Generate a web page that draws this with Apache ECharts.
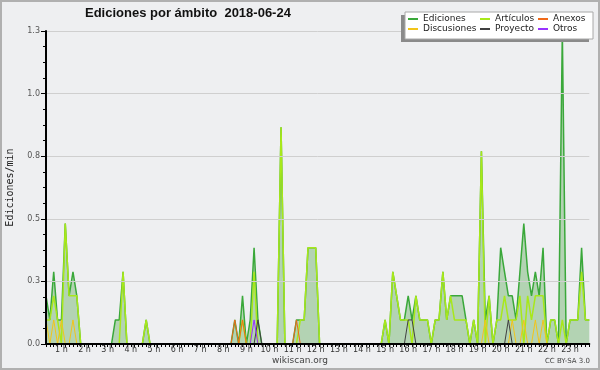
<!DOCTYPE html>
<html>
<head>
<meta charset="utf-8">
<script src="https://cdn.jsdelivr.net/npm/echarts@6/dist/echarts.min.js"></script>
<style>
html,body{margin:0;padding:0;background:#eeeff1;}
#chart{width:600px;height:370px;}
</style>
</head>
<body>
<div id="chart"></div>
<script>
// 10-minute bins from 00:20 to 23:50
const timeBins = [];
for (let t = 20; t <= 1430; t += 10) {
  const h = Math.floor(t / 60), m = t % 60;
  timeBins.push((h < 10 ? '0' : '') + h + ':' + (m < 10 ? '0' : '') + m);
}
const hourLabels = ['1 h','2 h','3 h','4 h','5 h','6 h','7 h','8 h','9 h','10 h','11 h','12 h',
  '13 h','14 h','15 h','16 h','17 h','18 h','19 h','20 h','21 h','22 h','23 h'];

const ediciones = [
  0.2,0.1,0.3,0.1,0.1,0.5,0.2,0.3,0.2,0, 0,0,0,0,0,0,0,0,0.1,0.1,
  0.3,0,0,0,0,0,0.1,0,0,0, 0,0,0,0,0,0,0,0,0,0,
  0,0,0,0,0,0,0,0,0,0.1, 0,0.2,0,0.1,0.4,0.1,0,0,0,0,
  0,0.9,0,0,0,0.1,0.1,0.1,0.4,0.4, 0.4,0,0,0,0,0,0,0,0,0,
  0,0,0,0,0,0,0,0,0.1,0, 0.3,0.2,0.1,0.1,0.2,0.1,0.2,0.1,0.1,0.1,
  0,0.1,0.1,0.3,0.1,0.2,0.2,0.2,0.2,0.1, 0,0.1,0,0.8,0.1,0.2,0,0.1,0.4,0.3,
  0.2,0.2,0.1,0.3,0.5,0.3,0.2,0.3,0.2,0.4, 0,0.1,0.1,0,1.3,0,0.1,0.1,0.1,0.4,
  0.1,0.1
];
const articulos = [
  0.1,0.1,0.2,0.1,0,0.5,0.2,0.2,0.2,0, 0,0,0,0,0,0,0,0,0,0,
  0.3,0,0,0,0,0,0.1,0,0,0, 0,0,0,0,0,0,0,0,0,0,
  0,0,0,0,0,0,0,0,0,0, 0,0.1,0,0,0.3,0,0,0,0,0,
  0,0.9,0,0,0,0,0.1,0.1,0.4,0.4, 0.4,0,0,0,0,0,0,0,0,0,
  0,0,0,0,0,0,0,0,0.1,0, 0.3,0.2,0.1,0.1,0.1,0,0.2,0.1,0.1,0.1,
  0,0.1,0.1,0.3,0.1,0.2,0.1,0.1,0.1,0.1, 0,0.1,0,0.8,0,0.2,0,0.1,0.1,0.2,
  0.1,0.1,0.1,0.2,0,0.2,0.1,0.2,0.2,0.2, 0,0.1,0.1,0,0.1,0,0.1,0.1,0.1,0.3,
  0.1,0.1
];
const discusiones = [
  0.1,0,0.1,0,0.1,0,0,0.1,0,0, 0,0,0,0,0,0,0,0,0,0,
  0,0,0,0,0,0,0,0,0,0, 0,0,0,0,0,0,0,0,0,0,
  0,0,0,0,0,0,0,0,0,0, 0,0,0,0,0,0,0,0,0,0,
  0,0,0,0,0,0,0,0,0,0, 0,0,0,0,0,0,0,0,0,0,
  0,0,0,0,0,0,0,0,0,0, 0,0,0,0,0,0,0,0,0,0,
  0,0,0,0,0,0,0,0,0,0, 0,0,0,0,0.1,0,0,0,0,0,
  0,0.1,0,0,0.1,0,0,0.1,0,0.1, 0,0,0,0,0,0,0,0,0,0,
  0,0
];
const anexos = [
  0,0,0,0,0,0,0,0,0,0, 0,0,0,0,0,0,0,0,0,0,
  0,0,0,0,0,0,0,0,0,0, 0,0,0,0,0,0,0,0,0,0,
  0,0,0,0,0,0,0,0,0,0.1, 0,0.1,0,0,0,0,0,0,0,0,
  0,0,0,0,0,0.1,0,0,0,0, 0,0,0,0,0,0,0,0,0,0,
  0,0,0,0,0,0,0,0,0,0, 0,0,0,0,0,0,0,0,0,0,
  0,0,0,0,0,0,0,0,0,0, 0,0,0,0,0,0,0,0,0,0,
  0,0,0,0,0,0,0,0,0,0, 0,0,0,0,0,0,0,0,0,0,
  0,0
];
const proyecto = [
  0,0,0,0,0,0,0,0,0,0, 0,0,0,0,0,0,0,0,0,0,
  0,0,0,0,0,0,0,0,0,0, 0,0,0,0,0,0,0,0,0,0,
  0,0,0,0,0,0,0,0,0,0, 0,0,0,0,0,0.1,0,0,0,0,
  0,0,0,0,0,0,0,0,0,0, 0,0,0,0,0,0,0,0,0,0,
  0,0,0,0,0,0,0,0,0,0, 0,0,0,0,0.1,0.1,0,0,0,0,
  0,0,0,0,0,0,0,0,0,0, 0,0,0,0,0,0,0,0,0,0,
  0.1,0,0,0,0,0,0,0,0,0, 0,0,0,0,0,0,0,0,0,0,
  0,0
];
const otros = [
  0,0,0,0,0,0,0,0,0,0, 0,0,0,0,0,0,0,0,0,0,
  0,0,0,0,0,0,0,0,0,0, 0,0,0,0,0,0,0,0,0,0,
  0,0,0,0,0,0,0,0,0,0, 0,0,0,0,0.1,0,0,0,0,0,
  0,0,0,0,0,0,0,0,0,0, 0,0,0,0,0,0,0,0,0,0,
  0,0,0,0,0,0,0,0,0,0, 0,0,0,0,0,0,0,0,0,0,
  0,0,0,0,0,0,0,0,0,0, 0,0,0,0,0,0,0,0,0,0,
  0,0,0,0,0,0,0,0,0,0, 0,0,0,0,0,0,0,0,0,0,
  0,0
];

const chart = echarts.init(document.getElementById('chart'), null, {renderer: 'canvas'});
const legendText = {fontFamily: 'DejaVu Sans', fontSize: 9, color: '#222', lineHeight: 10};
function mkLegend(names, left) {
  return {
    data: names, left: left, top: 14, orient: 'vertical', padding: 0, itemGap: 0,
    itemWidth: 10, itemHeight: 2, icon: 'rect', textStyle: legendText, z: 120,
    selectedMode: false
  };
}
function mkLine(name, data, color, width, extra) {
  return Object.assign({
    name: name, type: 'line', data: data, symbol: 'none', showSymbol: false,
    color: color, lineStyle: {color: color, width: width}, z: 2
  }, extra || {});
}
chart.setOption({
  animation: false,
  backgroundColor: '#eeeff1',
  title: [
    {text: 'Ediciones por ámbito  2018-06-24', left: 85, top: 7, padding: 0,
     textStyle: {fontFamily: 'Liberation Sans', fontWeight: 'bold', fontSize: 13, color: '#111'}},
    {text: 'wikiscan.org', left: 'center', top: 356, padding: 0,
     textStyle: {fontFamily: 'DejaVu Sans', fontWeight: 'normal', fontSize: 9, color: '#444'}},
    {text: 'CC BY-SA 3.0', right: 10, top: 358, padding: 0,
     textStyle: {fontFamily: 'DejaVu Sans', fontWeight: 'normal', fontSize: 7, color: '#444'}}
  ],
  legend: [
    mkLegend(['Ediciones', 'Discusiones'], 408),
    mkLegend(['Artículos', 'Proyecto'], 480),
    mkLegend(['Anexos', 'Otros'], 538)
  ],
  graphic: [
    {type: 'rect', shape: {x: 401, y: 15, width: 188, height: 27}, z: 109,
     style: {fill: '#8a8a8a', stroke: 'none'}},
    {type: 'rect', shape: {x: 405, y: 12, width: 188, height: 27}, z: 110,
     style: {fill: '#ffffff', stroke: '#a8a8a8', lineWidth: 1}},
    {type: 'rect', shape: {x: 1, y: 1, width: 598, height: 368}, z: 120,
     style: {fill: 'none', stroke: '#b0b0b0', lineWidth: 2}}
  ],
  grid: {left: 46, right: 10.7, top: 31, bottom: 26, outerBoundsMode: 'none', containLabel: false},
  xAxis: {
    type: 'category', data: timeBins, boundaryGap: false, z: 5,
    axisLine: {lineStyle: {color: '#000', width: 2}},
    axisTick: {interval: 0, length: 3, lineStyle: {color: '#000', width: 1}},
    axisLabel: {
      interval: (idx, val) => val.endsWith(':00'),
      formatter: (val) => hourLabels[parseInt(val, 10) - 1],
      margin: 2, fontFamily: 'DejaVu Sans', fontSize: 8, color: '#333'
    },
    splitLine: {show: false}
  },
  yAxis: {
    type: 'value', min: 0, max: 1.3, interval: 0.26, z: 5,
    name: 'Ediciones/min', nameLocation: 'middle', nameRotate: 90, nameGap: 31,
    nameTextStyle: {fontFamily: 'DejaVu Sans Mono', fontSize: 10, color: '#222'},
    axisLine: {show: true, lineStyle: {color: '#000', width: 2}},
    axisTick: {show: true, length: 5, lineStyle: {color: '#000'}},
    minorTick: {show: true, splitNumber: 4, length: 3, lineStyle: {color: '#000'}},
    axisLabel: {formatter: (v) => v.toFixed(1), margin: 6,
                fontFamily: 'DejaVu Sans', fontSize: 8, color: '#555'},
    splitLine: {show: true, lineStyle: {color: '#cfcfcf', width: 1}}
  },
  series: [
    mkLine('Ediciones', ediciones, '#3aa83a', 1.5,
           {areaStyle: {color: 'rgba(60,155,55,0.47)'}}),
    mkLine('Artículos', articulos, '#a8e81a', 1.5),
    mkLine('Discusiones', discusiones, '#f2c41a', 1),
    mkLine('Anexos', anexos, '#f06a1a', 1),
    mkLine('Proyecto', proyecto, '#404040', 1),
    mkLine('Otros', otros, '#9933ff', 1)
  ]
});
</script>
</body>
</html>
